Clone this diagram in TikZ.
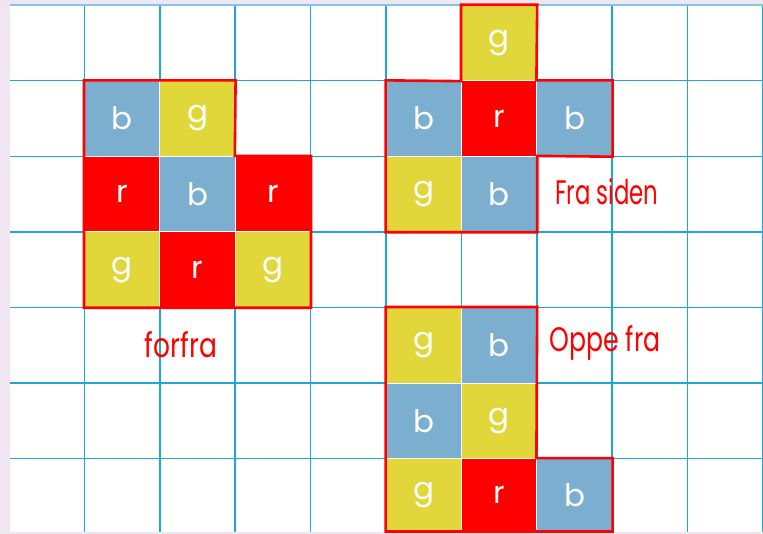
\documentclass[tikz,border=0pt]{standalone}
\usepackage{fontspec}
\setmainfont{Poppins}
\definecolor{lav}{RGB}{240,230,242}
\definecolor{gridc}{RGB}{30,166,214}
\definecolor{cb}{RGB}{123,174,207}
\definecolor{cg}{RGB}{225,214,58}
\definecolor{cr}{RGB}{255,0,0}
\tikzset{
  cellbox/.style={rectangle, inner sep=0pt, minimum width=75.4pt, minimum height=75.55pt,
    draw=white, line width=0.8pt, text=white, font=\fontsize{31}{34}\selectfont},
  bcell/.style={cellbox, fill=cb},
  gcell/.style={cellbox, fill=cg},
  rcell/.style={cellbox, fill=cr},
  outline/.style={draw=cr, line width=2.6pt, line join=miter},
  gridline/.style={draw=gridc, line width=1.5pt},
  lbl/.style={text=cr, inner sep=0pt, font=\fontsize{34}{36}\selectfont}
}
\newcommand{\cx}[1]{9+75.4*(#1+0.5)}
\newcommand{\cy}[1]{5.2+75.55*(#1+0.5)}
\begin{document}
\begin{tikzpicture}[x=1pt,y=-1pt]
\useasboundingbox (0,0) rectangle (763,534);
\fill[lav] (0,0) rectangle (763,534);
\fill[white] (9.5,5) rectangle (763,532);
% grid
\foreach \i in {1,...,10} \draw[gridline] ({9+75.4*\i},5) -- ({9+75.4*\i},532);
\foreach \j in {1,...,6} \draw[gridline] (9.5,{5.2+75.55*\j}) -- (763,{5.2+75.55*\j});
\draw[draw=gridc!60, line width=2pt] (9.5,5.5) -- (763,5.5);
% front view
\node[bcell] (f11) at ({\cx{1}},{\cy{1}}) {b};
\node[gcell] (f12) at ({\cx{2}},{\cy{1}}) {g};
\node[rcell] (f21) at ({\cx{1}},{\cy{2}}) {r};
\node[bcell] (f22) at ({\cx{2}},{\cy{2}}) {b};
\node[rcell] (f23) at ({\cx{3}},{\cy{2}}) {r};
\node[gcell] (f31) at ({\cx{1}},{\cy{3}}) {g};
\node[rcell] (f32) at ({\cx{2}},{\cy{3}}) {r};
\node[gcell] (f33) at ({\cx{3}},{\cy{3}}) {g};
\draw[outline] (f11.north west) -- (f12.north east) -- (f23.north west) -- (f23.north east)
  -- (f33.south east) -- (f31.south west) -- cycle;
% side view
\node[gcell] (s06) at ({\cx{6}},{\cy{0}}) {g};
\node[bcell] (s15) at ({\cx{5}},{\cy{1}}) {b};
\node[rcell] (s16) at ({\cx{6}},{\cy{1}}) {r};
\node[bcell] (s17) at ({\cx{7}},{\cy{1}}) {b};
\node[gcell] (s25) at ({\cx{5}},{\cy{2}}) {g};
\node[bcell] (s26) at ({\cx{6}},{\cy{2}}) {b};
\draw[outline] (s06.north west) -- (s06.north east) -- (s17.north west) -- (s17.north east)
  -- (s17.south east) -- (s26.north east) -- (s26.south east) -- (s25.south west)
  -- (s15.north west) -- (s06.south west) -- cycle;
% top view
\node[gcell] (t45) at ({\cx{5}},{\cy{4}}) {g};
\node[bcell] (t46) at ({\cx{6}},{\cy{4}}) {b};
\node[bcell] (t55) at ({\cx{5}},{\cy{5}}) {b};
\node[gcell] (t56) at ({\cx{6}},{\cy{5}}) {g};
\node[gcell, minimum height=72.5pt] (t65) at ({\cx{5}},494.8) {g};
\node[rcell, minimum height=72.5pt] (t66) at ({\cx{6}},494.8) {r};
\node[bcell, minimum height=72.5pt] (t67) at ({\cx{7}},494.8) {b};
\draw[outline] (t45.north west) -- (t46.north east) -- (t67.north west) -- (t67.north east)
  -- (t67.south east) -- (t65.south west) -- cycle;
% labels
\node[lbl, xscale=0.78] (lfront) at (181,345) {forfra};
\node[lbl, xscale=0.67] (lside) at (607,192) {Fra siden};
\node[lbl, xscale=0.74] (ltop) at (605,343) {Oppe fra};
\end{tikzpicture}
\end{document}
